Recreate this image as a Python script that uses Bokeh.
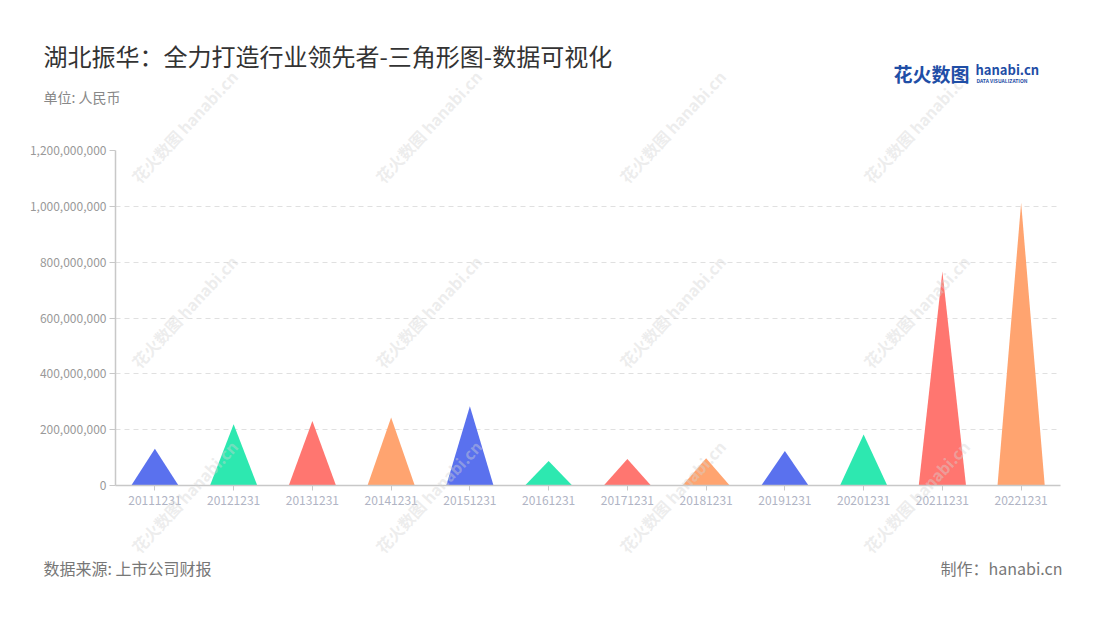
from bokeh.plotting import figure
from bokeh.layouts import column
from bokeh.models import Label, Range1d, FactorRange, NumeralTickFormatter, FixedTicker
from bokeh.embed import file_html
from bokeh.resources import INLINE

# ---------------- data ----------------
categories = ["20111231", "20121231", "20131231", "20141231", "20151231", "20161231",
              "20171231", "20181231", "20191231", "20201231", "20211231", "20221231"]
values = [132e6, 219e6, 231e6, 244e6, 284e6, 88e6,
          95e6, 98e6, 124e6, 183e6, 767e6, 1013e6]
palette = ["#5a71ee", "#2de8b0", "#ff7670", "#ffa470"]
y_ticks = [0, 200e6, 400e6, 600e6, 800e6, 1000e6, 1200e6]

title_text = "湖北振华：全力打造行业领先者-三角形图-数据可视化"
unit_text = "单位: 人民币"
source_text = "数据来源: 上市公司财报"
maker_text = "制作：hanabi.cn"
watermark_text = "花火数图 hanabi.cn"

FONT = "Noto Sans CJK SC"

W, H = 1100, 620
FL, FR, FT, FB = 115, 1060, 150, 485   # plot frame in page coords
YMAX = 1.2e9

WM_X = [184, 428, 672, 916]
WM_Y = [126, 311, 496]


def no_align(f):
    try:
        f.frame_align = False
    except Exception:
        pass


# ---------------- chart ----------------
p = figure(width=W, height=H, x_range=FactorRange(*categories),
           y_range=Range1d(0, YMAX), output_backend="svg", toolbar_location=None,
           min_border_left=FL, min_border_right=W - FR,
           min_border_top=FT, min_border_bottom=H - FB)
p.outline_line_color = None
p.background_fill_color = "white"
p.border_fill_color = "white"
no_align(p)

half = 0.3
for i, (c, v) in enumerate(zip(categories, values)):
    p.patch(x=[(c, -half), (c, 0.0), (c, half)], y=[0, v, 0],
            fill_color=palette[i % len(palette)], line_color=None)

p.xgrid.grid_line_color = None
p.ygrid.grid_line_color = "#e0e0e0"
p.ygrid.grid_line_dash = "5 4"
p.ygrid.ticker = FixedTicker(ticks=y_ticks)

p.yaxis.ticker = FixedTicker(ticks=y_ticks)
p.yaxis.formatter = NumeralTickFormatter(format="0,0")
p.yaxis.axis_line_color = "#c8c8c8"
p.yaxis.axis_line_width = 1.5
p.yaxis.major_tick_line_color = "#c8c8c8"
p.yaxis.major_tick_in = 0
p.yaxis.major_tick_out = 6
p.yaxis.minor_tick_line_color = None
p.yaxis.major_label_text_color = "#999999"
p.yaxis.major_label_text_font = FONT
p.yaxis.major_label_text_font_size = "12px"
p.yaxis.major_label_standoff = 3

p.xaxis.axis_line_color = "#c8c8c8"
p.xaxis.axis_line_width = 1.5
p.xaxis.major_tick_line_color = "#c8c8c8"
p.xaxis.major_tick_in = 0
p.xaxis.major_tick_out = 5
p.xaxis.major_label_text_color = "#b0b4c4"
p.xaxis.major_label_text_font = FONT
p.xaxis.major_label_text_font_size = "12px"
p.xaxis.major_label_standoff = 5

# ---------------- transparent overlay for titles, logo, footer, watermarks ----------------
ov = figure(width=W, height=H, x_range=Range1d(0, W), y_range=Range1d(H, 0),
            x_axis_type=None, y_axis_type=None, output_backend="svg", toolbar_location=None,
            min_border=0)
ov.grid.grid_line_color = None
ov.outline_line_color = None
ov.background_fill_color = None
ov.border_fill_color = None
ov.margin = (-H, 0, 0, 0)
no_align(ov)

for wx in WM_X:
    for wy in WM_Y:
        ov.add_layout(Label(x=wx, y=wy, text=watermark_text, angle=47, angle_units="deg",
                            text_align="center", text_baseline="middle",
                            text_font=FONT, text_font_size="16px", text_font_style="bold",
                            text_color="#d4d4d4", text_alpha=0.42))


def label(xp, yp, text, size, color, align="left", style="normal"):
    ov.add_layout(Label(x=xp, y=yp, text=text, text_align=align, text_baseline="middle",
                        text_font=FONT, text_font_size=size, text_color=color,
                        text_font_style=style))


label(43, 55, title_text, "24px", "#333333")
label(43, 96, unit_text, "14px", "#888888")
label(893, 73, "花火数图", "19px", "#1f4ea6", style="bold")
label(975, 69, "hanabi.cn", "13px", "#1f4ea6", style="bold")
label(976, 80, "DATA VISUALIZATION", "5px", "#1f4ea6", style="bold")
label(43, 567, source_text, "16px", "#777777")
label(1062, 567, maker_text, "16px", "#777777", align="right")

layout = column(p, ov, spacing=0)
open("out.html", "w").write(file_html(layout, INLINE))
